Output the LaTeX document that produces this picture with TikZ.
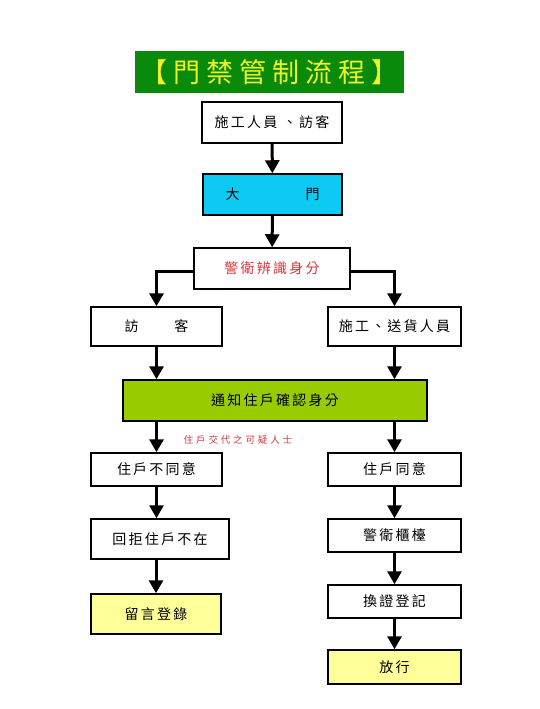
\documentclass[tikz,border=0pt]{standalone}
\usepackage{fontspec}
\usetikzlibrary{arrows.meta}
\newfontfamily\cjk[LetterSpace=16]{Noto Sans CJK TC}
\newfontfamily\cjktitle[LetterSpace=22]{Noto Sans CJK TC}
\newfontfamily\cjksmall[LetterSpace=30]{Noto Sans CJK TC}
\definecolor{TitleGreen}{HTML}{0A8A0A}
\definecolor{TitleYellow}{HTML}{EEF22A}
\definecolor{GateCyan}{HTML}{0DCAF2}
\definecolor{NotifyGreen}{HTML}{99CC00}
\definecolor{NoteYellow}{HTML}{FFFF99}
\definecolor{AlertRed}{HTML}{D9363E}
\tikzset{
  flowbox/.style={draw=black, line width=1.5pt, inner sep=0pt, font=\cjk\fontsize{14}{16}\selectfont},
  flowarrow/.style={line width=3pt, -{Triangle[width=14pt,length=13pt]}},
}

\begin{document}
\begin{tikzpicture}[x=1pt, y=-1pt]
    \useasboundingbox[fill=white] (0,0) rectangle (539,709);
    % title
    \node[fill=TitleGreen, minimum width=269pt, minimum height=42pt, inner sep=0pt,
          text=TitleYellow, font=\cjktitle\fontsize{27}{30}\selectfont] (title) at (269.5,72) {【門禁管制流程】};
    % main column
    \node[flowbox, minimum width=140pt, minimum height=41pt] (visitor) at (272,122.5) {施工人員 、訪客};
    \node[flowbox, fill=GateCyan, minimum width=139pt, minimum height=41pt] (gate) at (272.5,194.5) {大\hspace{66pt}門};
    \node[flowbox, minimum width=156pt, minimum height=41pt, text=AlertRed] (guard) at (272,268.5) {警衛辨識身分};
    \node[flowbox, minimum width=131pt, minimum height=39pt] (guest) at (156.5,326.5) {訪\hspace{36pt}客};
    \node[flowbox, minimum width=133pt, minimum height=39pt] (worker) at (394.5,326.5) {施工、送貨人員};
    \node[flowbox, fill=NotifyGreen, minimum width=304pt, minimum height=41pt] (notify) at (275,400.5) {通知住戶確認身分};
    \node[text=AlertRed, font=\cjksmall\fontsize{9.5}{11}\selectfont] (suspect) at (238,440) {住戶交代之可疑人士};
    % left branch
    \node[flowbox, minimum width=131pt, minimum height=33pt] (refuse) at (156.5,469.5) {住戶不同意};
    \node[flowbox, minimum width=138pt, minimum height=40pt] (reject) at (160,539) {回拒住戶不在};
    \node[flowbox, fill=NoteYellow, minimum width=130pt, minimum height=40pt] (message) at (156,614) {留言登錄};
    % right branch
    \node[flowbox, minimum width=133pt, minimum height=33pt] (agree) at (394.5,469.5) {住戶同意};
    \node[flowbox, minimum width=133pt, minimum height=33pt] (desk) at (394.5,535.5) {警衛櫃檯};
    \node[flowbox, minimum width=133pt, minimum height=33pt] (badge) at (394.5,601.5) {換證登記};
    \node[flowbox, fill=NoteYellow, minimum width=133pt, minimum height=34pt] (pass) at (394.5,667) {放行};
    % connectors
    \draw[flowarrow] (visitor) -- (gate);
    \draw[flowarrow] (gate) -- (guard);
    \draw[flowarrow] ([yshift=-3pt]guard.west) -| (guest.north);
    \draw[flowarrow] ([yshift=-3pt]guard.east) -| (worker.north);
    \draw[flowarrow] (guest) -- (guest |- notify.north);
    \draw[flowarrow] (worker) -- (worker |- notify.north);
    \draw[flowarrow] (refuse |- notify.south) -- (refuse);
    \draw[flowarrow] (agree |- notify.south) -- (agree);
    \draw[flowarrow] (refuse) -- (refuse |- reject.north);
    \draw[flowarrow] (message |- reject.south) -- (message);
    \draw[flowarrow] (agree) -- (desk);
    \draw[flowarrow] (desk) -- (badge);
    \draw[flowarrow] (badge) -- (pass);
\end{tikzpicture}
\end{document}
